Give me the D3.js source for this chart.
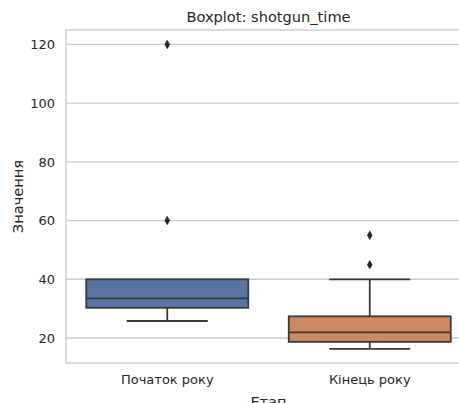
<!DOCTYPE html>
<html>
<head>
<meta charset="utf-8">
<script src="https://cdn.jsdelivr.net/npm/d3@7"></script>
<style>
  body { margin: 0; background: #fff; }
  text { font-family: "DejaVu Sans", sans-serif; fill: #262626; }
</style>
</head>
<body>
<div id="chart"></div>
<script>
// дані
const categories = ['Початок року', 'Кінець року'];
const q1 = [30.3, 18.7];
const median = [33.5, 21.9];
const q3 = [40, 27.4];
const whiskerLow = [25.8, 16.3];
const whiskerHigh = [40, 40];
const outliers = [[60, 120], [45, 55]];
const fills = ['#5975a4', '#cc8963'];
const yTicks = [20, 40, 60, 80, 100, 120];

let width = 459, height = 403;
let margin = {top: 30, right: -12, bottom: 40, left: 66};

let svg = d3.select('#chart').append('svg')
    .attr('width', width)
    .attr('height', height);

let x = d3.scaleBand()
    .domain(categories)
    .range([margin.left, width - margin.right])
    .padding(0);
let y = d3.scaleLinear()
    .domain([11.5, 124.9])
    .range([height - margin.bottom, margin.top]);

let x0 = margin.left, x1 = width - margin.right;
let y0 = height - margin.bottom, y1 = margin.top;

//网格线
svg.append('g').selectAll('line')
    .data(yTicks)
    .enter()
    .append('line')
    .attr('x1', x0).attr('x2', x1)
    .attr('y1', d => y(d)).attr('y2', d => y(d))
    .attr('stroke', '#cccccc')
    .attr('stroke-width', 1.4);

//坐标轴
let yAxis = svg.append('g')
    .attr('transform', 'translate(' + x0 + ',0)')
    .call(d3.axisLeft(y).tickValues(yTicks).tickSize(0).tickPadding(11));
yAxis.select('.domain').remove();
yAxis.selectAll('text').style('font-size', '13px').attr('fill', '#1a1a1a');

let xAxis = svg.append('g')
    .attr('transform', 'translate(0,' + y0 + ')')
    .call(d3.axisBottom(x).tickSize(0).tickPadding(12));
xAxis.select('.domain').remove();
xAxis.selectAll('text').style('font-size', '13px').attr('fill', '#1a1a1a');

//边框
svg.append('rect')
    .attr('x', x0).attr('y', y1)
    .attr('width', x1 - x0).attr('height', y0 - y1)
    .attr('fill', 'none')
    .attr('stroke', '#cccccc')
    .attr('stroke-width', 1.4);

//箱线
let boxW = x.bandwidth() * 0.8;
let capW = boxW / 2;
let edge = '#3a3a3a';
let lw = 1.8;
let boxes = svg.append('g').selectAll('g')
    .data(categories)
    .enter()
    .append('g');

boxes.each(function (c, i) {
    let g = d3.select(this);
    let cx = x(c) + x.bandwidth() / 2;
    // вуса
    g.append('line')
        .attr('x1', cx).attr('x2', cx)
        .attr('y1', y(whiskerLow[i])).attr('y2', y(q1[i]))
        .attr('stroke', edge).attr('stroke-width', lw);
    g.append('line')
        .attr('x1', cx).attr('x2', cx)
        .attr('y1', y(q3[i])).attr('y2', y(whiskerHigh[i]))
        .attr('stroke', edge).attr('stroke-width', lw);
    [whiskerLow[i], whiskerHigh[i]].forEach(v => {
        if (v === q3[i]) return;
        g.append('line')
            .attr('x1', cx - capW / 2).attr('x2', cx + capW / 2)
            .attr('y1', y(v)).attr('y2', y(v))
            .attr('stroke', edge).attr('stroke-width', lw);
    });
    g.append('rect')
        .attr('x', cx - boxW / 2)
        .attr('y', y(q3[i]))
        .attr('width', boxW)
        .attr('height', y(q1[i]) - y(q3[i]))
        .attr('fill', fills[i])
        .attr('stroke', edge)
        .attr('stroke-width', lw);
    g.append('line')
        .attr('x1', cx - boxW / 2).attr('x2', cx + boxW / 2)
        .attr('y1', y(median[i])).attr('y2', y(median[i]))
        .attr('stroke', edge).attr('stroke-width', lw);
    g.selectAll('path.out')
        .data(outliers[i])
        .enter()
        .append('path')
        .attr('class', 'out')
        .attr('d', d3.symbol().type(d3.symbolDiamond).size(26))
        .attr('transform', d => 'translate(' + cx + ',' + y(d) + ')')
        .attr('fill', '#262626');
});

//标题
svg.append('text')
    .attr('x', (x0 + x1) / 2)
    .attr('y', 22)
    .attr('text-anchor', 'middle')
    .style('font-size', '14.6px')
    .attr('fill', '#1a1a1a')
    .text('Boxplot: shotgun_time');

svg.append('text')
    .attr('transform', 'translate(23,' + (y0 + y1) / 2 + ') rotate(-90)')
    .attr('text-anchor', 'middle')
    .style('font-size', '14.6px')
    .attr('fill', '#1a1a1a')
    .text('Значення');

svg.append('text')
    .attr('x', (x0 + x1) / 2)
    .attr('y', 407)
    .attr('text-anchor', 'middle')
    .style('font-size', '14.6px')
    .attr('fill', '#1a1a1a')
    .text('Етап');
</script>
</body>
</html>
